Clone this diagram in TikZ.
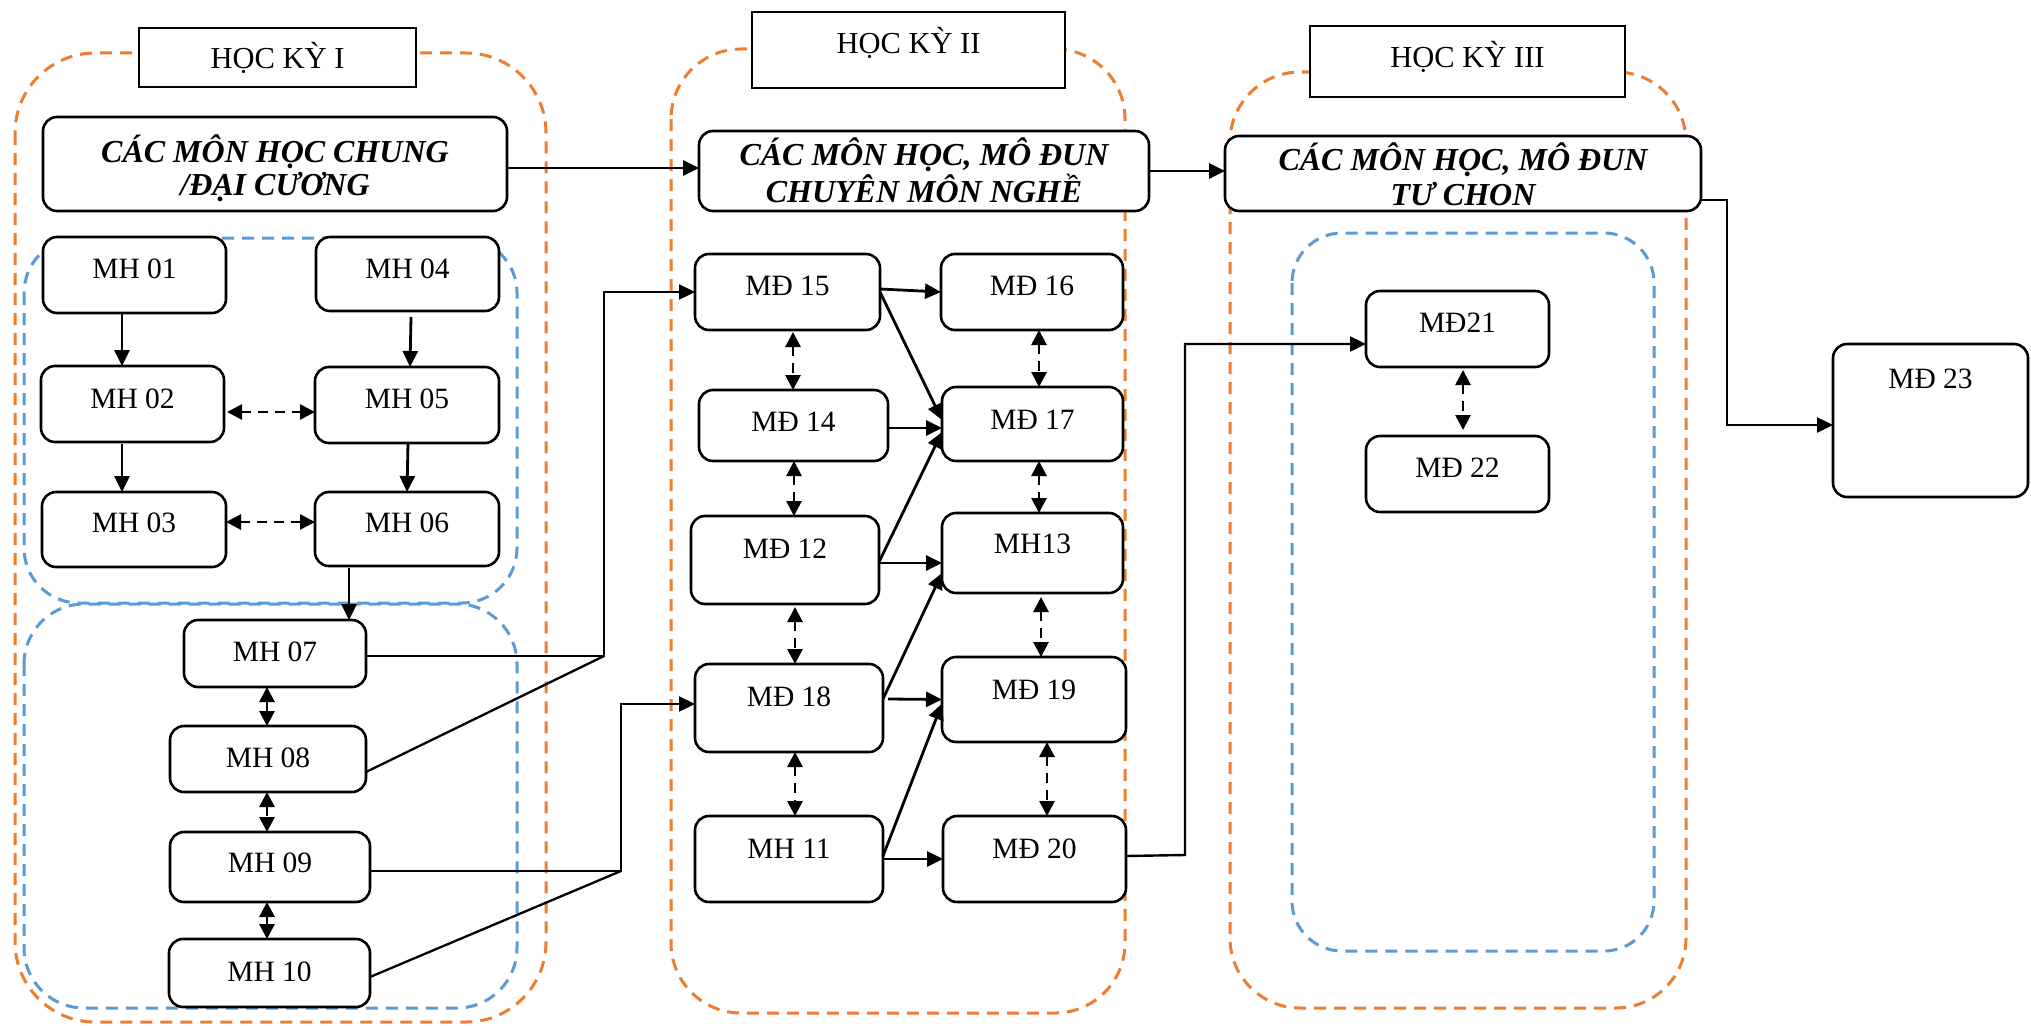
\documentclass[tikz,border=0pt]{standalone}
\usepackage{fontspec}
\setmainfont{Liberation Serif}
\usetikzlibrary{arrows.meta,calc}
\definecolor{ora}{HTML}{ED7D31}
\definecolor{blu}{HTML}{5B9BD5}
\newcommand{\mkbox}[6]{\node[#1, anchor=north west, minimum width={#4pt-#2pt}, minimum height={#5pt-#3pt}] (#6) at (#2,#3) {};}
\newcommand{\mklbl}[4]{\node[#1] (#2t) at (#2.center |- 0,#3) {#4};}
\begin{document}
\begin{tikzpicture}[x=1pt,y=-1pt,
  box/.style={draw=black, line width=2.6pt, rounded corners=14pt, fill=white, inner sep=0pt, outer sep=0pt},
  hkbox/.style={draw=black, line width=2.6pt, fill=white, inner sep=0pt, outer sep=0pt},
  lbl/.style={anchor=base, inner sep=0pt, font=\fontsize{29.5}{34}\selectfont},
  hklbl/.style={anchor=base, inner sep=0pt, font=\fontsize{30.5}{36}\selectfont},
  hdr/.style={anchor=base, inner sep=0pt, font=\fontsize{32}{36}\selectfont\bfseries\itshape},
  grpO/.style={draw=ora, line width=3pt, dash pattern=on 12pt off 8pt},
  grpB/.style={draw=blu, line width=3pt, dash pattern=on 12pt off 8pt},
  arr/.style={line width=2.8pt, -{Triangle[length=16pt,width=15pt]}},
  darr/.style={line width=2.8pt, dash pattern=on 10pt off 7pt, {Triangle[length=15pt,width=15pt]}-{Triangle[length=15pt,width=15pt]}},
  thinl/.style={line width=2.3pt},
]
\fill[white] (0,0) rectangle (2031,1025);
\useasboundingbox (0,0) rectangle (2031,1025);

% group frames
\draw[grpO, rounded corners=80pt] (15,53) rectangle (546,1022);
\draw[grpO, rounded corners=70pt] (671,49) rectangle (1125,1013);
\draw[grpO, rounded corners=70pt] (1230,72) rectangle (1686,1008);
\draw[grpB, rounded corners=55pt] (24,238) rectangle (517,603);
\draw[grpB, rounded corners=60pt] (24,604) rectangle (517,1008);
\draw[grpB, rounded corners=50pt] (1292,233) rectangle (1654,951);

% semester title boxes
\mkbox{hkbox}{139}{28}{416}{87}{hk1}
\mkbox{hkbox}{752}{12}{1065}{88}{hk2}
\mkbox{hkbox}{1310}{26}{1625}{97}{hk3}
% header boxes
\mkbox{box}{43}{117}{507}{211}{chung}
\mkbox{box}{699}{131}{1149}{211}{chuyen}
\mkbox{box}{1225}{136}{1701}{211}{tuchon}
% semester I
\mkbox{box}{43}{237}{226}{313}{mh01}
\mkbox{box}{316}{237}{499}{311}{mh04}
\mkbox{box}{41}{366}{224}{442}{mh02}
\mkbox{box}{315}{367}{499}{443}{mh05}
\mkbox{box}{42}{492}{226}{567}{mh03}
\mkbox{box}{315}{492}{499}{566}{mh06}
\mkbox{box}{184}{620}{366}{687}{mh07}
\mkbox{box}{170}{726}{366}{792}{mh08}
\mkbox{box}{170}{832}{370}{902}{mh09}
\mkbox{box}{169}{939}{370}{1007}{mh10}
% semester II
\mkbox{box}{695}{254}{880}{330}{md15}
\mkbox{box}{941}{254}{1123}{330}{md16}
\mkbox{box}{699}{390}{888}{461}{md14}
\mkbox{box}{942}{387}{1123}{461}{md17}
\mkbox{box}{691}{516}{879}{604}{md12}
\mkbox{box}{942}{513}{1123}{593}{mh13}
\mkbox{box}{695}{664}{883}{752}{md18}
\mkbox{box}{942}{657}{1126}{742}{md19}
\mkbox{box}{695}{816}{883}{902}{mh11}
\mkbox{box}{943}{816}{1126}{902}{md20}
% semester III
\mkbox{box}{1366}{291}{1549}{367}{md21}
\mkbox{box}{1366}{436}{1549}{512}{md22}
\mkbox{box}{1833}{344}{2028}{497}{md23}

% labels
\mklbl{hklbl}{hk1}{68}{HỌC KỲ I}
\mklbl{hklbl}{hk2}{53}{HỌC KỲ II}
\mklbl{hklbl}{hk3}{67}{HỌC KỲ III}
\node[hdr] (chungA) at (chung.center |- 0,162) {CÁC MÔN HỌC CHUNG};
\node[hdr] (chungB) at (chung.center |- 0,195) {/ĐẠI CƯƠNG};
\node[hdr] (chuyenA) at (chuyen.center |- 0,165) {CÁC MÔN HỌC, MÔ ĐUN};
\node[hdr] (chuyenB) at (chuyen.center |- 0,202) {CHUYÊN MÔN NGHỀ};
\node[hdr] (tuchonA) at (tuchon.center |- 0,170) {CÁC MÔN HỌC, MÔ ĐUN};
\node[hdr] (tuchonB) at (tuchon.center |- 0,205) {TƯ CHON};
\mklbl{lbl}{mh01}{278}{MH 01}
\mklbl{lbl}{mh04}{278}{MH 04}
\mklbl{lbl}{mh02}{408}{MH 02}
\mklbl{lbl}{mh05}{408}{MH 05}
\mklbl{lbl}{mh03}{532}{MH 03}
\mklbl{lbl}{mh06}{532}{MH 06}
\mklbl{lbl}{mh07}{661}{MH 07}
\mklbl{lbl}{mh08}{767}{MH 08}
\mklbl{lbl}{mh09}{872}{MH 09}
\mklbl{lbl}{mh10}{981}{MH 10}
\mklbl{lbl}{md15}{295}{MĐ 15}
\mklbl{lbl}{md16}{295}{MĐ 16}
\mklbl{lbl}{md14}{431}{MĐ 14}
\mklbl{lbl}{md17}{429}{MĐ 17}
\mklbl{lbl}{md12}{558}{MĐ 12}
\mklbl{lbl}{mh13}{553}{MH13}
\mklbl{lbl}{md18}{706}{MĐ 18}
\mklbl{lbl}{md19}{699}{MĐ 19}
\mklbl{lbl}{mh11}{858}{MH 11}
\mklbl{lbl}{md20}{858}{MĐ 20}
\mklbl{lbl}{md21}{332}{MĐ21}
\mklbl{lbl}{md22}{477}{MĐ 22}
\mklbl{lbl}{md23}{388}{MĐ 23}

% junction points
\coordinate (j1) at (604,656);
\coordinate (j2) at (621,871);
\coordinate (j3) at (1185,855);
\coordinate (j5) at (1727,425);
\coordinate (m21in) at ([yshift=-15pt]md21.west);

% header flow
\draw[arr] ([yshift=-4pt]chung.east) -- ([yshift=-4pt]chung.east -| chuyen.west);
\draw[arr] (chuyen.east) -- (chuyen.east -| tuchon.west);
\draw[arr, line width=2.4pt] ([yshift=-26.5pt]tuchon.east) -| (j5) -- (j5 -| md23.west);

% semester I
\draw[arr] ([xshift=-12.5pt]mh01.south) -- ([xshift=-12.5pt]mh01.south |- mh02.north);
\draw[arr] ([xshift=3.5pt,yshift=-6pt]mh04.south) -- ([xshift=2.5pt]mh04.south |- mh05.north);
\draw[arr] ([xshift=-10.5pt,yshift=-2pt]mh02.south) -- ([xshift=-10.5pt]mh02.south |- mh03.north);
\draw[arr] ([xshift=1pt]mh05.south) -- (mh05.south |- mh06.north);
\draw[arr] ([xshift=-58pt,yshift=-2pt]mh06.south) -- ([xshift=-58pt]mh06.south |- mh07.north);
\draw[darr] ([xshift=3pt,yshift=-8pt]mh02.east) -- ([yshift=-8pt]mh02.east -| mh05.west);
\draw[darr] ([yshift=7.5pt]mh03.east) -- ([yshift=7.5pt]mh03.east -| mh06.west);
\draw[darr] ([xshift=-8pt]mh07.south) -- ([xshift=-8pt]mh07.south |- mh08.north);
\draw[darr] ([xshift=-1pt]mh08.south) -- ([xshift=-1pt]mh08.south |- mh09.north);
\draw[darr] ([xshift=-3pt]mh09.south) -- ([xshift=-3pt]mh09.south |- mh10.north);

% semester I to II
\draw[arr, line width=2.3pt] (mh07.east |- j1) -- (j1) |- (md15.west);
\draw[thinl] ([yshift=-13pt]mh08.east) -- (j1);
\draw[arr, line width=2.3pt] (mh09.east |- j2) -- (j2) |- ([yshift=4pt]md18.west);
\draw[thinl] ([yshift=-4pt]mh10.east) -- (j2);

% semester II
\draw[arr] ([yshift=3pt]md15.east) -- (md16.west);
\draw[arr] (md15.east) -- ([yshift=4pt]md17.west);
\draw[arr] ([yshift=-2.5pt]md14.east) -- ([yshift=-2.5pt]md14.east -| md17.west);
\draw[arr] ([yshift=-2pt]md12.east) -- ([yshift=-8pt]md17.west);
\draw[arr] ([yshift=-3pt]md12.east) -- ([yshift=-3pt]md12.east -| mh13.west);
\draw[arr] ([yshift=9pt]md18.east) -- ([yshift=-20pt]mh13.west);
\draw[arr] ([xshift=5pt,yshift=9pt]md18.east) -- (md19.west);
\draw[arr] ([yshift=3pt]mh11.east) -- ([yshift=-4pt]md19.west);
\draw[arr] (mh11.east) -- (md20.west);
\draw[darr] ([xshift=5.5pt,yshift=-2pt]md15.south) -- ([xshift=5.5pt]md15.south |- md14.north);
\draw[darr] ([xshift=7pt]md16.south) -- ([xshift=7pt]md16.south |- md17.north);
\draw[darr] ([xshift=0.5pt]md14.south) -- ([xshift=0.5pt]md14.south |- md12.north);
\draw[darr] ([xshift=6.5pt]md17.south) -- ([xshift=6.5pt]md17.south |- mh13.north);
\draw[darr] ([xshift=10pt,yshift=-3pt]md12.south) -- ([xshift=10pt]md12.south |- md18.north);
\draw[darr] ([xshift=6pt]md18.south) -- ([xshift=6pt]md18.south |- mh11.north);
\draw[darr] ([xshift=8.5pt,yshift=-4pt]mh13.south) -- ([xshift=8.5pt]mh13.south |- md19.north);
\draw[darr] ([xshift=13pt]md19.south) -- ([xshift=13pt]md19.south |- md20.north);

% semester II to III
\draw[arr, line width=2.4pt] ([yshift=3pt]md20.east) -- (j3) -- (j3 |- m21in) -- (m21in);
\draw[darr] ([xshift=5.5pt,yshift=-3pt]md21.south) -- ([xshift=5.5pt,yshift=6pt]md21.south |- md22.north);
\end{tikzpicture}
\end{document}
